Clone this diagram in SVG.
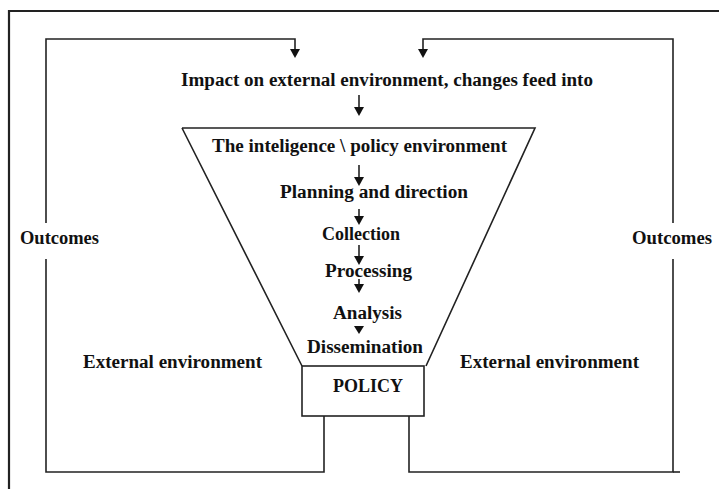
<svg xmlns="http://www.w3.org/2000/svg" width="719" height="489" viewBox="0 0 719 489">
<defs>
<style>
.t{font-family:"Liberation Serif","Times New Roman",serif;font-weight:bold;font-size:18px;fill:#111;}
.ln{fill:none;stroke:#222;stroke-width:1.6;}
.frame{fill:none;stroke:#222;stroke-width:2.2;}
.ah{fill:#111;stroke:none;}
</style>
</defs>
<rect width="719" height="489" fill="#fff"/>
<path class="frame" d="M9,500 V11 H730"/>
<g id="connectors">
<path class="ln" d="M46,223 V39 H295 V50"/>
<polygon class="ah" points="290,49 300,49 295,58"/>
<path class="ln" d="M673,223 V39 H423 V50"/>
<polygon class="ah" points="418,49 428,49 423,58"/>
<path class="ln" d="M46,259 V472 H324 V416"/>
<path class="ln" d="M673,259 V472 H409 V416"/>
<path class="ln" d="M673,472 H680"/>
<path class="ln" d="M359,95 V108"/>
<polygon class="ah" points="354,107 364,107 359,116"/>
<path class="ln" d="M359,165 V178"/>
<polygon class="ah" points="354,177 364,177 359,186"/>
<path class="ln" d="M359,209 V217"/>
<polygon class="ah" points="354,216 364,216 359,225"/>
<path class="ln" d="M359,245 V257"/>
<polygon class="ah" points="354,256 364,256 359,265"/>
<path class="ln" d="M359,279 V285"/>
<polygon class="ah" points="354,284 364,284 359,293"/>
<polygon class="ah" points="354,326 364,326 359,334"/>
</g>
<g id="impact"><text class="t" x="181" y="86" textLength="412" lengthAdjust="spacingAndGlyphs">Impact on external environment, changes feed into</text></g>
<g id="funnel">
<path class="ln" d="M182,128 H535 L426,366 M182,128 L302,366"/>
<text class="t" x="212" y="152" textLength="295" lengthAdjust="spacingAndGlyphs">The inteligence \ policy environment</text>
</g>
<g id="planning"><text class="t" x="280" y="198" textLength="188" lengthAdjust="spacingAndGlyphs">Planning and direction</text></g>
<g id="collection"><text class="t" x="322" y="240" textLength="78" lengthAdjust="spacingAndGlyphs">Collection</text></g>
<g id="processing"><text class="t" x="325" y="277" textLength="87" lengthAdjust="spacingAndGlyphs">Processing</text></g>
<g id="analysis"><text class="t" x="333" y="319" textLength="69" lengthAdjust="spacingAndGlyphs">Analysis</text></g>
<g id="dissemination"><text class="t" x="307" y="353" textLength="116" lengthAdjust="spacingAndGlyphs">Dissemination</text></g>
<g id="policy">
<rect class="ln" x="302" y="366" width="122" height="50" fill="#fff"/>
<text class="t" x="333" y="392" textLength="70" lengthAdjust="spacingAndGlyphs">POLICY</text>
</g>
<g id="outcomes-left"><text class="t" x="20" y="244" textLength="79" lengthAdjust="spacingAndGlyphs">Outcomes</text></g>
<g id="outcomes-right"><text class="t" x="632" y="244" textLength="80" lengthAdjust="spacingAndGlyphs">Outcomes</text></g>
<g id="external-left"><text class="t" x="83" y="368" textLength="179" lengthAdjust="spacingAndGlyphs">External environment</text></g>
<g id="external-right"><text class="t" x="460" y="368" textLength="179" lengthAdjust="spacingAndGlyphs">External environment</text></g>
</svg>
